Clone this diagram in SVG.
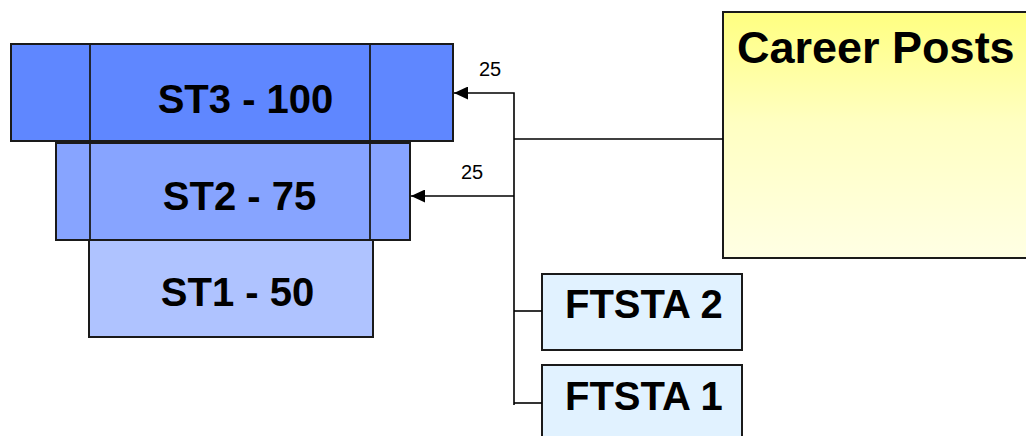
<svg xmlns="http://www.w3.org/2000/svg" width="1026" height="436" viewBox="0 0 1026 436">
<style>
.box{stroke:#1a1a1a;stroke-width:2}
.big{font-family:"Liberation Sans",Arial,sans-serif;font-weight:bold;font-size:40px;fill:#000}
.lbl{font-family:"Liberation Sans",Arial,sans-serif;font-size:20px;fill:#000}
.con{stroke:#000;stroke-width:1.6;fill:none}
</style>
<defs>
<linearGradient id="yel" x1="0" y1="0" x2="0" y2="1">
<stop offset="0" stop-color="#ffff80"/>
<stop offset="0.45" stop-color="#ffffc2"/>
<stop offset="1" stop-color="#ffffe4"/>
</linearGradient>
<marker id="arr" markerWidth="15" markerHeight="13" refX="14" refY="6.5" orient="auto" markerUnits="userSpaceOnUse">
<path d="M0,0 L14,6.5 L0,13 Z" fill="#000"/>
</marker>
</defs>
<g id="st3">
<rect class="box" x="11" y="44" width="442" height="97" fill="#5f87ff"/>
<text class="big" x="245.5" y="113" text-anchor="middle">ST3 - 100</text>
</g>
<g id="st2">
<rect class="box" x="56" y="143" width="354" height="97" fill="#87a4ff"/>
<text class="big" x="239.5" y="210" text-anchor="middle">ST2 - 75</text>
</g>
<g id="st1">
<rect class="box" x="89" y="240" width="284" height="97" fill="#afc3ff"/>
<text class="big" x="237.5" y="306" text-anchor="middle">ST1 - 50</text>
</g>
<g id="dividers">
<line x1="90" y1="44" x2="90" y2="241" stroke="#1a1a1a" stroke-width="1.8"/>
<line x1="370" y1="44" x2="370" y2="241" stroke="#1a1a1a" stroke-width="1.8"/>
</g>
<g id="career">
<rect class="box" x="723" y="12" width="320" height="246" fill="url(#yel)"/>
<text class="big" x="737" y="63" style="font-size:45px">Career Posts</text>
</g>
<g id="ftsta2">
<rect class="box" x="542" y="274" width="200" height="76" fill="#e1f2ff"/>
<text class="big" x="565" y="318">FTSTA 2</text>
</g>
<g id="ftsta1">
<rect class="box" x="542" y="365" width="200" height="90" fill="#e1f2ff"/>
<text class="big" x="565" y="410">FTSTA 1</text>
</g>
<g id="connectors">
<polyline class="con" points="514,405 514,93 454,93" marker-end="url(#arr)"/>
<line class="con" x1="514" y1="196" x2="411" y2="196" marker-end="url(#arr)"/>
<line class="con" x1="514" y1="139" x2="723" y2="139"/>
<line class="con" x1="514" y1="311" x2="542" y2="311"/>
<line class="con" x1="514" y1="403" x2="542" y2="403"/>
<text class="lbl" x="479" y="76">25</text>
<text class="lbl" x="461" y="179">25</text>
</g>
</svg>
